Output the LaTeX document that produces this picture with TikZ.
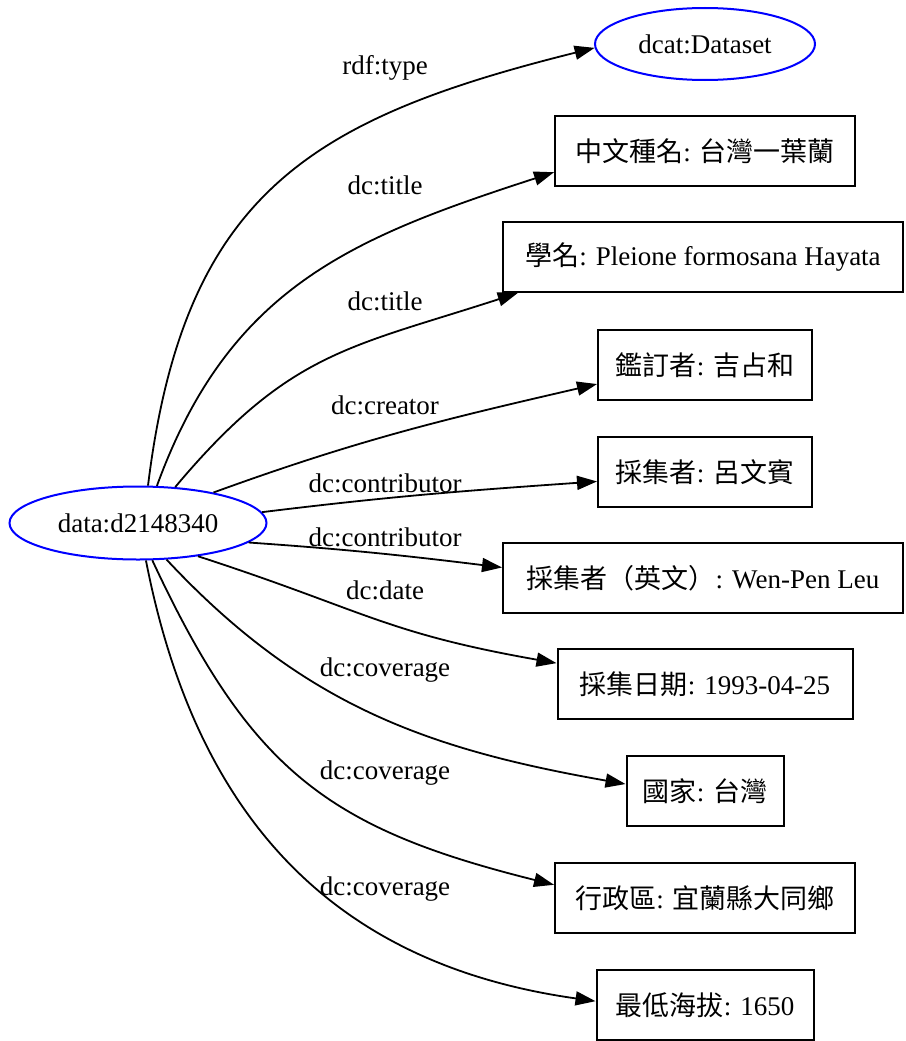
\documentclass[tikz,border=0pt]{standalone}
\usepackage{fontspec}
\setmainfont{Liberation Serif}
\newfontfamily\cjk{Noto Sans CJK TC}
\usetikzlibrary{arrows.meta,positioning,shapes.geometric}

\begin{document}
\begin{tikzpicture}[x=1pt,y=1pt,->,>={Triangle[length=20pt,width=14pt]},line width=1.8pt,font=\fontsize{27}{32}\selectfont,res/.style={draw=blue,ellipse,line width=2pt,inner sep=0pt},lit/.style={draw=black,rectangle,line width=2pt,minimum height=70pt,inner sep=0pt},prop/.style={inner sep=0pt}]
	\useasboundingbox (0,0) rectangle (905,-1041);

	\node[res,minimum width=257pt,minimum height=73pt]	(data)		at (138,-523)		{data:d2148340};
	\node[res,minimum width=220pt,minimum height=72pt]	(dataset)	at (705,-44)		{dcat:Dataset};
	\node[lit,minimum width=300pt]	(cname)		at (705,-151)		{{\cjk 中文種名}: {\cjk 台灣一葉蘭}};
	\node[lit,minimum width=400pt]	(sname)		at (703,-257)		{{\cjk 學名}: Pleione formosana Hayata};
	\node[lit,minimum width=214pt]	(ident)		at (705,-365)		{{\cjk 鑑訂者}: {\cjk 吉占和}};
	\node[lit,minimum width=214pt]	(coll)		at (705,-472)		{{\cjk 採集者}: {\cjk 呂文賓}};
	\node[lit,minimum width=400pt]	(collen)	at (703,-578)		{{\cjk 採集者（英文）}: Wen-Pen Leu};
	\node[lit,minimum width=295pt]	(date)		at (705,-684)		{{\cjk 採集日期}: 1993-04-25};
	\node[lit,minimum width=157pt]	(country)	at (705,-791)		{{\cjk 國家}: {\cjk 台灣}};
	\node[lit,minimum width=300pt]	(county)	at (705,-898)		{{\cjk 行政區}: {\cjk 宜蘭縣大同鄉}};
	\node[lit,minimum width=217pt]	(alt)		at (705,-1005)		{{\cjk 最低海拔}: 1650};

	\node[prop]	(ltype)		at (385,-68)	{rdf:type};
	\node[prop]	(ltitle)	at (385,-185)	{dc:title};
	\node[prop]	(ltitleb)	at (385,-301)	{dc:title};
	\node[prop]	(lcreator)	at (385,-405)	{dc:creator};
	\node[prop]	(lcontr)	at (385,-483)	{dc:contributor};
	\node[prop]	(lcontrb)	at (385,-537)	{dc:contributor};
	\node[prop]	(ldate)		at (385,-590)	{dc:date};
	\node[prop]	(lcov)		at (385,-670)	{dc:coverage};
	\node[prop]	(lcovb)		at (385,-773)	{dc:coverage};
	\node[prop]	(lcovc)		at (385,-889)	{dc:coverage};

	\path
		(data.75)	edge	[out=83,in=194,looseness=1.2]		(dataset.182)
		(data.63)	edge	[out=70,in=198,looseness=1.07]		(cname.188)
		(data.44)	edge	[out=50,in=198,looseness=1.15]		(sname.191)
		(data.22)	edge	[out=20,in=193]						(ident.190)
		(data.5)	edge	[out=7,in=184]						(coll.185)
		(data.-10)	edge	[out=-4,in=173]						(collen.177)
		(data.-29)	edge	[out=-18,in=170,looseness=1.2]		(date.172)
		(data.-52)	edge	[out=-47,in=170]					(country.175)
		(data.-69)	edge	[out=-65,in=166,looseness=1.15]		(county.175)
		(data.-78)	edge	[out=-79,in=172,looseness=1.07]		(alt.178)
	;
\end{tikzpicture}
\end{document}
